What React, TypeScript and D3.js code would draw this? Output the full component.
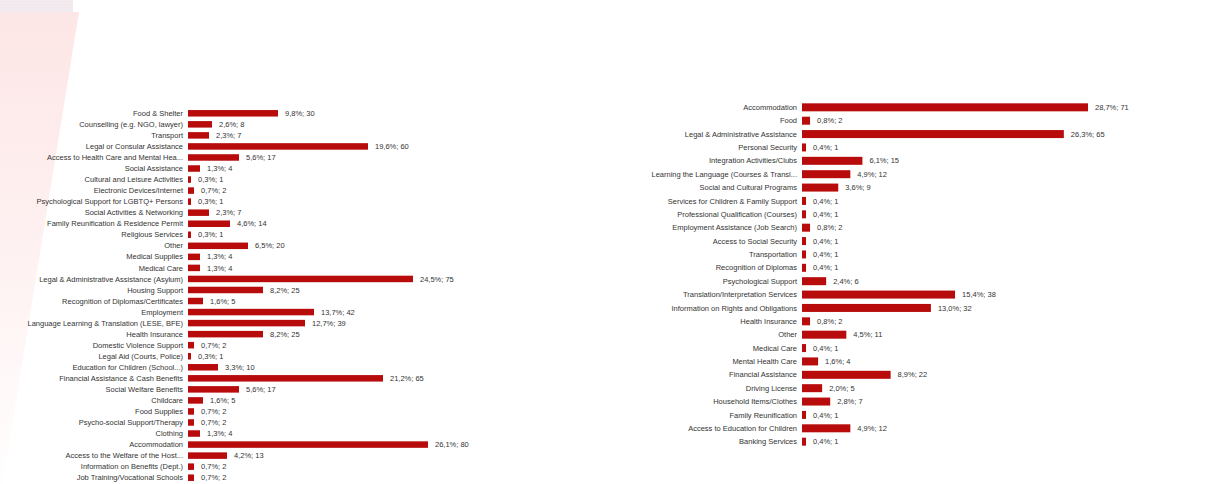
import React from "react";
import * as d3 from "d3";

const leftCategories = [
  "Food & Shelter",
  "Counselling (e.g. NGO, lawyer)",
  "Transport",
  "Legal or Consular Assistance",
  "Access to Health Care and Mental Hea...",
  "Social Assistance",
  "Cultural and Leisure Activities",
  "Electronic Devices/Internet",
  "Psychological Support for LGBTQ+ Persons",
  "Social Activities & Networking",
  "Family Reunification & Residence Permit",
  "Religious Services",
  "Other",
  "Medical Supplies",
  "Medical Care",
  "Legal & Administrative Assistance (Asylum)",
  "Housing Support",
  "Recognition of Diplomas/Certificates",
  "Employment",
  "Language Learning & Translation (LESE, BFE)",
  "Health Insurance",
  "Domestic Violence Support",
  "Legal Aid (Courts, Police)",
  "Education for Children (School...)",
  "Financial Assistance & Cash Benefits",
  "Social Welfare Benefits",
  "Childcare",
  "Food Supplies",
  "Psycho-social Support/Therapy",
  "Clothing",
  "Accommodation",
  "Access to the Welfare of the Host...",
  "Information on Benefits (Dept.)",
  "Job Training/Vocational Schools",
];
const leftValues = [30, 8, 7, 60, 17, 4, 1, 2, 1, 7, 14, 1, 20, 4, 4, 75, 25, 5, 42, 39, 25, 2, 1, 10, 65, 17, 5, 2, 2, 4, 80, 13, 2, 2];
const leftPercents = ["9,8%", "2,6%", "2,3%", "19,6%", "5,6%", "1,3%", "0,3%", "0,7%", "0,3%", "2,3%", "4,6%", "0,3%", "6,5%", "1,3%", "1,3%", "24,5%", "8,2%", "1,6%", "13,7%", "12,7%", "8,2%", "0,7%", "0,3%", "3,3%", "21,2%", "5,6%", "1,6%", "0,7%", "0,7%", "1,3%", "26,1%", "4,2%", "0,7%", "0,7%"];

const rightCategories = [
  "Accommodation",
  "Food",
  "Legal & Administrative Assistance",
  "Personal Security",
  "Integration Activities/Clubs",
  "Learning the Language (Courses & Transl...",
  "Social and Cultural Programs",
  "Services for Children & Family Support",
  "Professional Qualification (Courses)",
  "Employment Assistance (Job Search)",
  "Access to Social Security",
  "Transportation",
  "Recognition of Diplomas",
  "Psychological Support",
  "Translation/Interpretation Services",
  "Information on Rights and Obligations",
  "Health Insurance",
  "Other",
  "Medical Care",
  "Mental Health Care",
  "Financial Assistance",
  "Driving License",
  "Household Items/Clothes",
  "Family Reunification",
  "Access to Education for Children",
  "Banking Services",
];
const rightValues = [71, 2, 65, 1, 15, 12, 9, 1, 1, 2, 1, 1, 1, 6, 38, 32, 2, 11, 1, 4, 22, 5, 7, 1, 12, 1];
const rightPercents = ["28,7%", "0,8%", "26,3%", "0,4%", "6,1%", "4,9%", "3,6%", "0,4%", "0,4%", "0,8%", "0,4%", "0,4%", "0,4%", "2,4%", "15,4%", "13,0%", "0,8%", "4,5%", "0,4%", "1,6%", "8,9%", "2,0%", "2,8%", "0,4%", "4,9%", "0,4%"];

const BAR = "#b80c0c";
const TEXT = "#333333";
const FONT = "'Liberation Sans', Arial, sans-serif";

function BarPanel({ cats, vals, pcts, x0, top, bottom, maxLen, barH }: any) {
  const y = d3.scaleBand<string>().domain(cats).range([top, bottom]).paddingInner(0.35).paddingOuter(0.2);
  const x = d3.scaleLinear().domain([0, d3.max(vals) as number]).range([0, maxLen]);
  return (
    <g>
      {cats.map((c: string, i: number) => {
        const cy = (y(c) as number) + y.bandwidth() / 2;
        const w = Math.max(2, x(vals[i]));
        return (
          <g key={c + i}>
            <text x={x0 - 5} y={cy} dy="0.35em" textAnchor="end" fontSize={7.5} fill={TEXT} fontFamily={FONT}>
              {c}
            </text>
            <rect x={x0} y={cy - barH / 2} width={w} height={barH} fill={BAR} />
            <text x={x0 + w + 7} y={cy} dy="0.35em" fontSize={7.5} fill={TEXT} fontFamily={FONT}>
              {`${pcts[i]}; ${vals[i]}`}
            </text>
          </g>
        );
      })}
    </g>
  );
}

export default function App() {
  return (
    <svg
      width={1227}
      height={484}
      style={{ position: "absolute", left: 0, top: 0, display: "block", background: "#fff" }}
    >
      <defs>
        <linearGradient id="pinkfade" x1="0" y1="0" x2="0" y2="1">
          <stop offset="0" stopColor="#fde6e6" />
          <stop offset="0.35" stopColor="#feeeee" />
          <stop offset="0.75" stopColor="#fff8f8" />
          <stop offset="1" stopColor="#ffffff" />
        </linearGradient>
        <pattern id="stripes" width="4" height="3" patternUnits="userSpaceOnUse">
          <rect width="4" height="3" fill="#efeaf0" />
          <rect width="4" height="1" fill="#f7e9ec" />
        </pattern>
      </defs>
      <rect x={0} y={0} width={73} height={12} fill="url(#stripes)" />
      <polygon points="0,12 79,12 0,500" fill="url(#pinkfade)" />
      <BarPanel
        cats={leftCategories}
        vals={leftValues}
        pcts={leftPercents}
        x0={188}
        top={107.5}
        bottom={483.5}
        maxLen={240}
        barH={6.5}
      />
      <BarPanel
        cats={rightCategories}
        vals={rightValues}
        pcts={rightPercents}
        x0={802}
        top={100.3}
        bottom={448.7}
        maxLen={286}
        barH={8}
      />
    </svg>
  );
}
